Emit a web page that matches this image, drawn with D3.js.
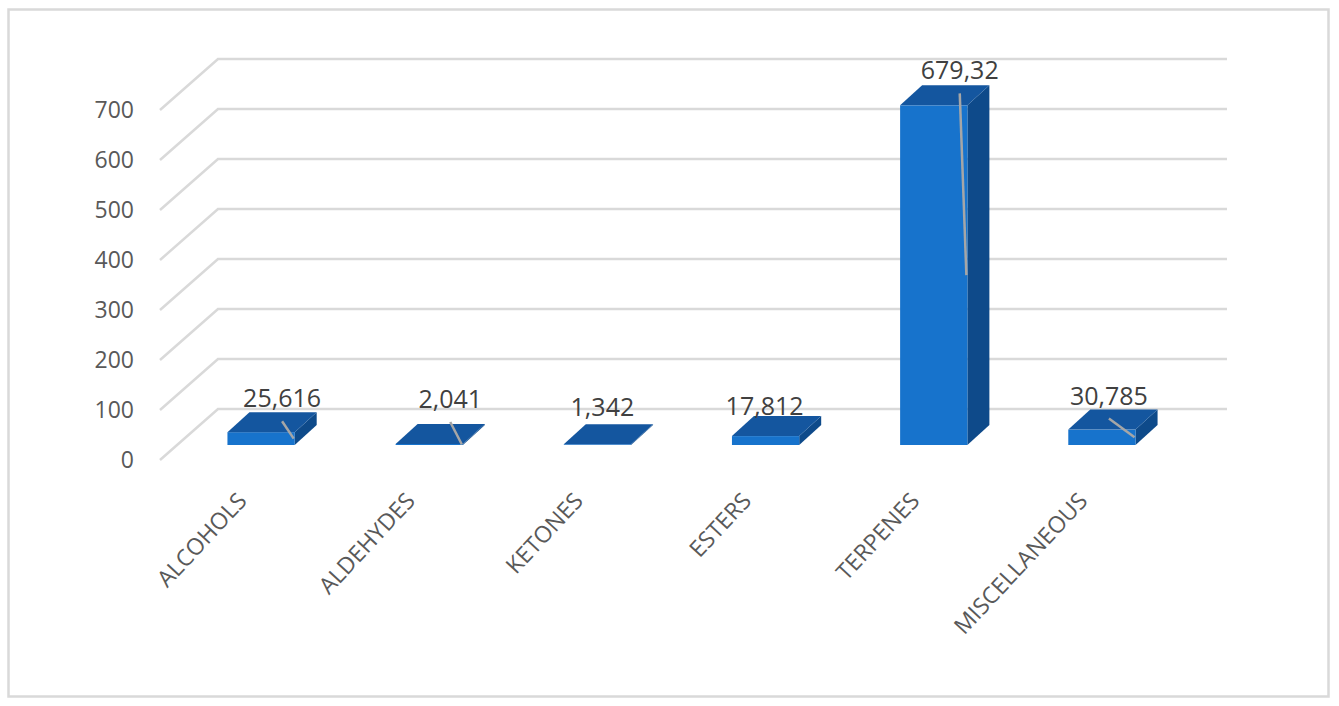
<!DOCTYPE html>
<html>
<head>
<meta charset="utf-8">
<script src="https://cdn.jsdelivr.net/npm/d3@7"></script>
<style>
  body { margin: 0; background: #fff; }
  text { font-family: "Open Sans", "Noto Sans", sans-serif; }
</style>
</head>
<body>
<div id="chart"></div>
<script>
// values
var categories = ['ALCOHOLS', 'ALDEHYDES', 'KETONES', 'ESTERS', 'TERPENES', 'MISCELLANEOUS'];
var values = [25.616, 2.041, 1.342, 17.812, 679.32, 30.785];
var valueLabels = ['25,616', '2,041', '1,342', '17,812', '679,32', '30,785'];
var yTicks = [0, 100, 200, 300, 400, 500, 600, 700];

// hand-moved data labels in the original (offset from default spot) + leader line flag
var labelNudge = [
    {dx: 10, dy: 1, leader: true},
    {dx: 10, dy: -10, leader: true},
    {dx: -6, dy: -2, leader: false},
    {dx: -12, dy: 5, leader: false},
    {dx: 15, dy: 0, leader: true},
    {dx: -4, dy: 1, leader: true}
];

var width = 1339, height = 706;
var svg = d3.select('#chart').append('svg').attr('width', width).attr('height', height);

// outer frame
svg.append('rect').attr('x', 8.5).attr('y', 9.5).attr('width', 1320).attr('height', 687)
    .attr('fill', '#fff').attr('stroke', '#d9d9d9').attr('stroke-width', 2.5);

var front = {left: 160, right: 1169};
var depth = {dx: 58, dy: -51};          // floor/wall depth
var barOff = {dx: 17, dy: -15};         // front of the bars inside the depth
var barDepth = {dx: 22, dy: -20};

var y = d3.scaleLinear().domain([0, 700]).range([460, 110]);
var x = d3.scaleBand().domain(categories).range([front.left, front.right])
    .paddingInner(0.6).paddingOuter(0.3);
var bw = x.bandwidth();

// gridlines: side wall diagonal + back wall horizontal
var grid = svg.append('g').attr('class', 'grid');
grid.selectAll('path').data(yTicks).enter().append('path')
    .attr('d', function(t) {
        var yf = y(t);
        return 'M' + front.left + ',' + yf + 'L' + (front.left + depth.dx) + ',' + (yf + depth.dy)
            + 'L' + (front.right + depth.dx) + ',' + (yf + depth.dy);
    })
    .attr('fill', 'none').attr('stroke', '#d9d9d9').attr('stroke-width', 2.5);

// y labels
svg.append('g').selectAll('text').data(yTicks).enter().append('text')
    .attr('x', 134).attr('y', function(t) { return y(t); })
    .attr('dy', '0.35em')
    .attr('text-anchor', 'end')
    .attr('font-size', 23).attr('fill', '#595959')
    .text(function(t) { return t; });

// bars
var bars = categories.map(function(c, i) {
    var x0 = x(c) + barOff.dx;
    var yb = y(0) + barOff.dy;
    var yt = yb - (y(0) - y(values[i]));
    return {x0: x0, x1: x0 + bw, yb: yb, yt: yt, i: i};
});

var gBars = svg.append('g').attr('class', 'bars');
var barG = gBars.selectAll('g').data(bars).enter().append('g');
// side face
barG.append('path').attr('fill', '#0e4a8a')
    .attr('d', function(b) {
        return 'M' + b.x1 + ',' + b.yb + 'L' + (b.x1 + barDepth.dx) + ',' + (b.yb + barDepth.dy)
            + 'L' + (b.x1 + barDepth.dx) + ',' + (b.yt + barDepth.dy) + 'L' + b.x1 + ',' + b.yt + 'Z';
    });
// front face
barG.append('rect').attr('fill', '#1773cc')
    .attr('x', function(b) { return b.x0; })
    .attr('y', function(b) { return b.yt; })
    .attr('width', bw)
    .attr('height', function(b) { return b.yb - b.yt; });
// top face
barG.append('path').attr('fill', '#14569f')
    .attr('d', function(b) {
        return 'M' + b.x0 + ',' + b.yt + 'L' + b.x1 + ',' + b.yt
            + 'L' + (b.x1 + barDepth.dx) + ',' + (b.yt + barDepth.dy)
            + 'L' + (b.x0 + barDepth.dx) + ',' + (b.yt + barDepth.dy) + 'Z';
    });

// data labels
var labelPos = function(b) {
    var n = labelNudge[b.i];
    return {x: (b.x0 + b.x1) / 2 + barDepth.dx / 2 + n.dx, y: b.yt - 26 + n.dy};
};

svg.append('g').selectAll('line').data(bars.filter(function(b) { return labelNudge[b.i].leader; }))
    .enter().append('line')
    .attr('x1', function(b) { return labelPos(b).x; })
    .attr('y1', function(b) { return labelPos(b).y + 14; })
    .attr('x2', function(b) { return b.x1 - 1; })
    .attr('y2', function(b) { return (b.yt + b.yb) / 2; })
    .attr('stroke', '#a6a6a6').attr('stroke-width', 2.5);

svg.append('g').selectAll('text').data(bars).enter().append('text')
    .attr('x', function(b) { return labelPos(b).x; })
    .attr('y', function(b) { return labelPos(b).y; })
    .attr('text-anchor', 'middle')
    .attr('font-size', 25).attr('fill', '#404040')
    .text(function(b) { return valueLabels[b.i]; });

// category labels, rotated
svg.append('g').selectAll('text').data(categories).enter().append('text')
    .attr('text-anchor', 'end')
    .attr('font-size', 23).attr('fill', '#595959')
    .attr('transform', function(c) {
        var cx = x(c) + bw / 2 + 4;
        return 'translate(' + cx + ',502) rotate(-47)';
    })
    .text(function(c) { return c; });
</script>
</body>
</html>
